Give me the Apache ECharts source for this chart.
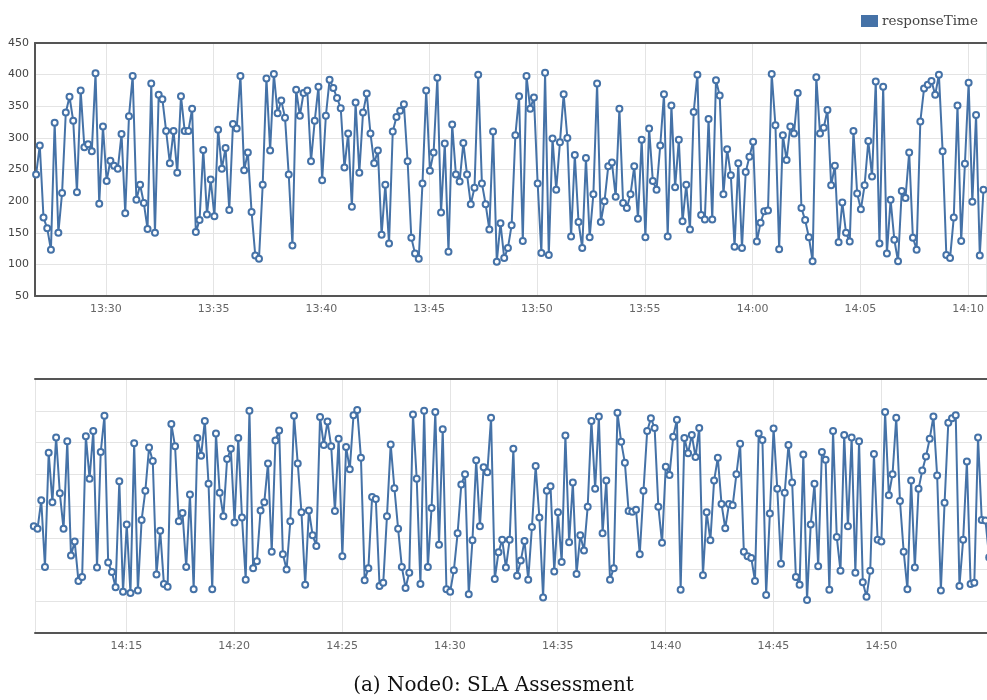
<!DOCTYPE html>
<html><head><meta charset="utf-8">
<script src="https://cdn.jsdelivr.net/npm/echarts@6/dist/echarts.min.js"></script>
<style>html,body{margin:0;padding:0;background:#fff}#c{width:987px;height:700px}</style>
</head><body><div id="c"></div>
<script>
const seriesName = 'responseTime';
const caption = '(a) Node0: SLA Assessment';
const firstSampleTime = '13:26:46';
const sampleStepSeconds = 10.34;
const topWindow = ['13:26:43', '14:10:51'];
const bottomWindow = ['14:10:46', '14:54:54'];
const yMin = 50, yMax = 450, yStep = 50;

const topValues = [
242,288,174,157,123,324,150,213,340,365,
327,214,375,285,290,279,402,196,318,232,
264,256,251,306,181,334,398,202,226,197,
156,386,150,368,361,311,260,311,245,366,
311,311,346,151,170,281,179,234,176,313,
251,284,186,322,315,398,249,277,183,114,
109,226,394,280,401,339,359,332,242,130,
376,335,371,375,263,327,381,233,335,392,
379,363,347,253,307,191,356,245,340,370,
307,260,280,147,226,133,310,333,343,353,
263,142,117,109,228,375,248,277,395,182,
291,120,321,242,231,292,242,195,221,400,
228,195,155,310,104,165,110,126,162,304,
366,137,398,346,364,228,118,403,115,299,
218,293,369,300,144,273,167,126,268,143,
211,386,167,200,255,261,207,346,197,189,
211,255,172,297,143,315,232,218,288,369,
144,351,222,297,168,226,155,341,400,178,
171,330,171,391,367,211,282,241,128,260,
126,246,270,294,136,166,184,185,401,320,
124,304,265,318,307,371,189,170,143,105,
396,307,316,344,225,256,135,198,150,136,
311,212,187,225,295,239,389,133,381,117,
202,139,105,216,205,277,142,123,326,378,
384,390,368,400,279,115,110,174,351,137,
259,387,199,336,114,218
];

const bottomValues = [
218,214,259,154,334,256,358,270,214,352,
172,194,132,138,360,293,368,153,335,392,
161,146,122,289,115,221,113,349,117,228,
274,342,321,142,211,127,123,379,344,226,
239,154,268,119,357,329,384,285,119,364,
271,234,324,340,224,357,232,134,400,152,
163,243,256,317,178,353,369,174,150,226,
392,317,240,126,243,204,187,390,346,383,
344,242,356,171,343,308,393,401,326,133,
152,264,261,124,129,234,347,278,214,154,
121,145,394,293,127,400,154,247,398,189,
371,119,115,149,207,284,300,111,196,322,
218,311,303,389,135,177,197,153,197,340,
140,164,195,134,217,313,232,106,274,281,
147,240,162,361,193,287,143,204,180,249,
384,277,391,207,290,134,152,397,351,318,
242,241,244,174,274,368,388,373,249,192,
312,299,359,386,118,357,333,362,327,373,
141,240,196,290,326,253,215,253,251,300,
348,178,171,168,132,364,354,110,238,372,
277,159,271,346,287,138,126,331,102,221,
285,155,335,323,118,368,201,148,362,218,
358,145,352,130,107,148,332,197,194,398,
267,300,389,258,178,119,290,153,277,306,
328,356,391,298,117,255,381,388,393,124,
197,320,127,129,358,228,227,169
];

function t(s) {
  const p = s.split(':').map(Number);
  return new Date(2016, 0, 1, p[0], p[1], p[2]).getTime();
}
const t0 = t(firstSampleTime);
const stepMs = sampleStepSeconds * 1000;
const topData = topValues.map((v, i) => [t0 + i * stepMs, v]);
const bottomOffset = topValues.length - 1;
const bottomData = bottomValues.map((v, i) => [t0 + (bottomOffset + i) * stepMs, v]);

const pad = n => (n < 10 ? '0' : '') + n;
const fmt = v => { const d = new Date(v); return pad(d.getHours()) + ':' + pad(d.getMinutes()); };

const lineColor = '#4572a7';
const borderColor = '#555';
const gridColor = '#e4e4e4';

function timeAxis(gridIndex, win) {
  return {
    type: 'time', gridIndex, min: t(win[0]), max: t(win[1]),
    splitNumber: 8,
    axisLine: { show: true, lineStyle: { color: borderColor, width: 2 } },
    axisTick: { show: false },
    axisLabel: { color: '#666', fontSize: 11, fontFamily: 'DejaVu Sans', margin: 8,
      formatter: fmt, showMinLabel: false, showMaxLabel: false },
    splitLine: { show: true, lineStyle: { color: gridColor, width: 1 } }
  };
}
function topLine(gridIndex) {
  return {
    type: 'value', gridIndex, position: 'top', min: 0, max: 1,
    axisLine: { show: true, lineStyle: { color: borderColor, width: 2 } },
    axisTick: { show: false }, axisLabel: { show: false }, splitLine: { show: false }
  };
}
function valueAxis(gridIndex, showLabels) {
  return {
    type: 'value', gridIndex, min: yMin, max: yMax, interval: yStep,
    axisLine: { show: showLabels, lineStyle: { color: borderColor, width: 2 } },
    axisTick: { show: false },
    axisLabel: { show: showLabels, color: '#444', fontSize: 11, fontFamily: 'DejaVu Sans', margin: 6 },
    splitLine: { show: true, lineStyle: { color: gridColor, width: 1 } }
  };
}
function lineSeries(xi, yi, data) {
  return {
    name: seriesName, type: 'line', xAxisIndex: xi, yAxisIndex: yi, data,
    symbol: 'emptyCircle', symbolSize: 6, showAllSymbol: true, clip: false,
    lineStyle: { color: lineColor, width: 2 },
    itemStyle: { color: lineColor, borderColor: lineColor, borderWidth: 1.6 },
    emphasis: { disabled: true }
  };
}

const chart = echarts.init(document.getElementById('c'), null, { renderer: 'canvas' });
chart.setOption({
  animation: false,
  backgroundColor: '#fff',
  title: { text: caption, left: 'center', top: 671,
    textStyle: { fontFamily: 'DejaVu Serif', fontSize: 20, fontWeight: 'normal', color: '#111' } },
  legend: { data: [{ name: seriesName, icon: 'rect' }], left: 856, top: 9, itemWidth: 15, itemHeight: 10, itemGap: 5,
    textStyle: { fontFamily: 'DejaVu Serif', fontSize: 13.5, color: '#444' } },
  grid: [
    { left: 35, right: 0, top: 43, height: 253 },
    { left: 35, right: 0, top: 379, height: 254 }
  ],
  xAxis: [timeAxis(0, topWindow), timeAxis(1, bottomWindow), topLine(0), topLine(1)],
  yAxis: [valueAxis(0, true), valueAxis(1, false)],
  series: [lineSeries(0, 0, topData), lineSeries(1, 1, bottomData)]
});
</script></body></html>
